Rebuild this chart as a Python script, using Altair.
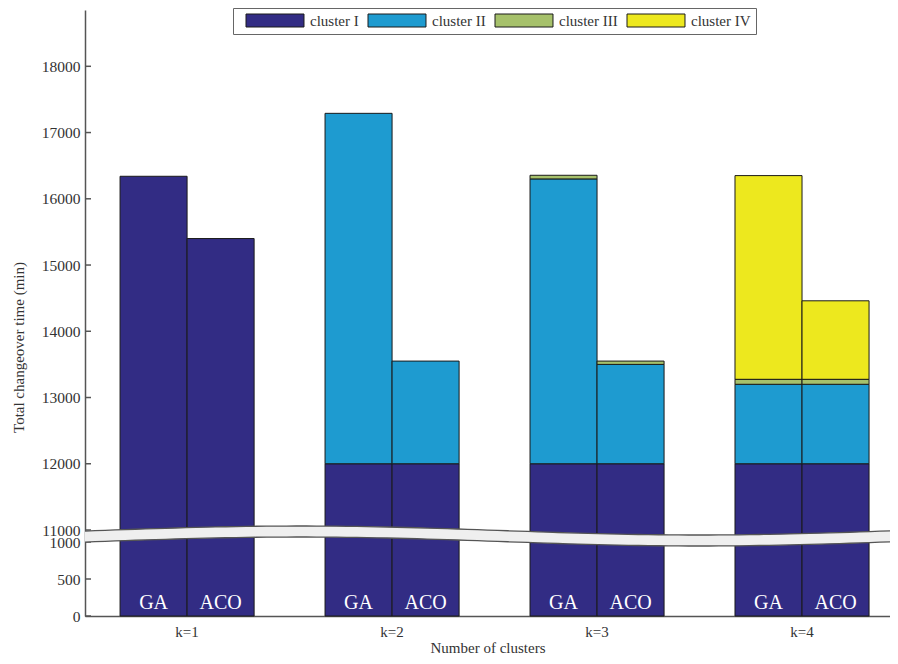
import altair as alt
import pandas as pd
import numpy as np

groups = ["k=1", "k=2", "k=3", "k=4"]
algos = ["GA", "ACO"]
clusters = ["cluster I", "cluster II", "cluster III", "cluster IV"]
colors = ["#322C84", "#1E9BD0", "#A6C16B", "#EDE81E"]

# values per bar, order: k1-GA, k1-ACO, k2-GA, k2-ACO, k3-GA, k3-ACO, k4-GA, k4-ACO
cluster_I = [16340, 15400, 12000, 12000, 12000, 12000, 12000, 12000]
cluster_II = [0, 0, 5290, 1550, 4300, 1500, 1200, 1200]
cluster_III = [0, 0, 0, 0, 55, 50, 75, 75]
cluster_IV = [0, 0, 0, 0, 0, 0, 3075, 1185]

tick_values = [0, 500, 1000, 11000, 12000, 13000, 14000, 15000, 16000, 17000, 18000]

rows = []
series = [cluster_I, cluster_II, cluster_III, cluster_IV]
i = 0
for g in groups:
    for a in algos:
        for ci, c in enumerate(clusters):
            v = series[ci][i]
            if v > 0:
                rows.append({"k": g, "alg": a, "cluster": c, "order": ci, "value": v})
        i += 1
df = pd.DataFrame(rows)
lab = pd.DataFrame([{"k": g, "alg": a} for g in groups for a in algos])
ticks = pd.DataFrame({"t": tick_values})

W, H = 805, 606
FONT = "Liberation Serif"

yscale = alt.Scale(domain=[0, 1000, 11000, 18850], range=[H, 532, 520, 0], nice=False, zero=False)
xscale = alt.Scale(paddingInner=0.346, paddingOuter=0.1366, align=0.626)
xoff = alt.Scale(domain=algos, paddingInner=0, paddingOuter=0)

bars = alt.Chart(df).mark_bar(stroke="#1a1a1a", strokeWidth=1).encode(
    x=alt.X("k:N", sort=groups, scale=xscale,
            axis=alt.Axis(title="Number of clusters", labelAngle=0, tickSize=0, labelPadding=8,
                          domainColor="#555", domainWidth=1.5, labelColor="#333", labelFontSize=15,
                          titleColor="#333", titleFontSize=15, titleFontWeight="normal", titlePadding=1,
                          labelFont=FONT, titleFont=FONT, orient="bottom")),
    xOffset=alt.XOffset("alg:N", scale=xoff),
    y=alt.Y("value:Q", stack="zero", scale=yscale,
            axis=alt.Axis(values=tick_values, format="d", title="Total changeover time (min)", tickSize=0,
                          labelPadding=5, labelOverlap=False, labelBound=False, grid=False,
                          domainColor="#555", domainWidth=1.5, labelColor="#333", labelFontSize=15.5,
                          titleColor="#333", titleFontSize=15, titleFontWeight="normal",
                          titleX=-67, titleY=337, titleBaseline="middle",
                          labelFont=FONT, titleFont=FONT, orient="left")),
    color=alt.Color("cluster:N", scale=alt.Scale(domain=clusters, range=colors),
                    legend=alt.Legend(title=None, orient="none", direction="horizontal",
                                      legendX=148, legendY=-2,
                                      symbolType="M-4.46,-1H4.46V1H-4.46Z", symbolSize=169,
                                      symbolOffset=29.5,
                                      symbolStrokeColor="#1a1a1a", symbolStrokeWidth=1,
                                      labelFont=FONT, labelFontSize=15, labelColor="#333",
                                      strokeColor="#666", fillColor="white", padding=5,
                                      columnPadding=1, labelOffset=27.5)),
    order=alt.Order("order:Q"),
)

texts = alt.Chart(lab).mark_text(color="white", font=FONT, fontSize=20, baseline="middle").encode(
    x=alt.X("k:N", sort=groups, scale=xscale, axis=None),
    xOffset=alt.XOffset("alg:N", scale=xoff),
    y=alt.Y("v:Q", scale=yscale, axis=None),
    text="alg:N",
).transform_calculate(v="170")

tickmarks = alt.Chart(ticks).mark_rule(color="#555", strokeWidth=1.5).encode(
    y=alt.Y("t:Q", scale=yscale, axis=None),
    x=alt.value(0), x2=alt.value(6),
)

# decorative axis-break band (pixels from bottom of the plot)
xs = np.linspace(0, 1, 81)
px = 85 + xs * W
center = 616 - (536 - 4.5 * np.cos(2 * np.pi * (px - 300) / 800))
band = pd.DataFrame({"bx": xs, "top": center + 5.5, "bot": center - 5.5})
bx = alt.X("bx:Q", scale=alt.Scale(domain=[0, 1], nice=False, zero=False), axis=None)
bys = alt.Scale(domain=[0, H], nice=False, zero=False)
band_area = alt.Chart(band).mark_area(color="#EFEFEF", opacity=1).encode(
    x=bx, y=alt.Y("top:Q", scale=bys, axis=None), y2="bot:Q")
band_top = alt.Chart(band).mark_line(color="#555", strokeWidth=1.3).encode(
    x=bx, y=alt.Y("top:Q", scale=bys, axis=None))
band_bot = alt.Chart(band).mark_line(color="#555", strokeWidth=1.3).encode(
    x=bx, y=alt.Y("bot:Q", scale=bys, axis=None))

chart = alt.layer(bars, texts, tickmarks, band_area, band_top, band_bot).resolve_scale(
    x="independent", y="independent"
).properties(
    width=W, height=H,
    autosize=alt.AutoSizeParams(type="none"),
    padding={"left": 77, "top": 2, "right": 0, "bottom": 40},
).configure(font=FONT).configure_view(stroke="transparent", strokeWidth=0)

chart.save("out.html", embed_options={"renderer": "svg", "actions": False})
